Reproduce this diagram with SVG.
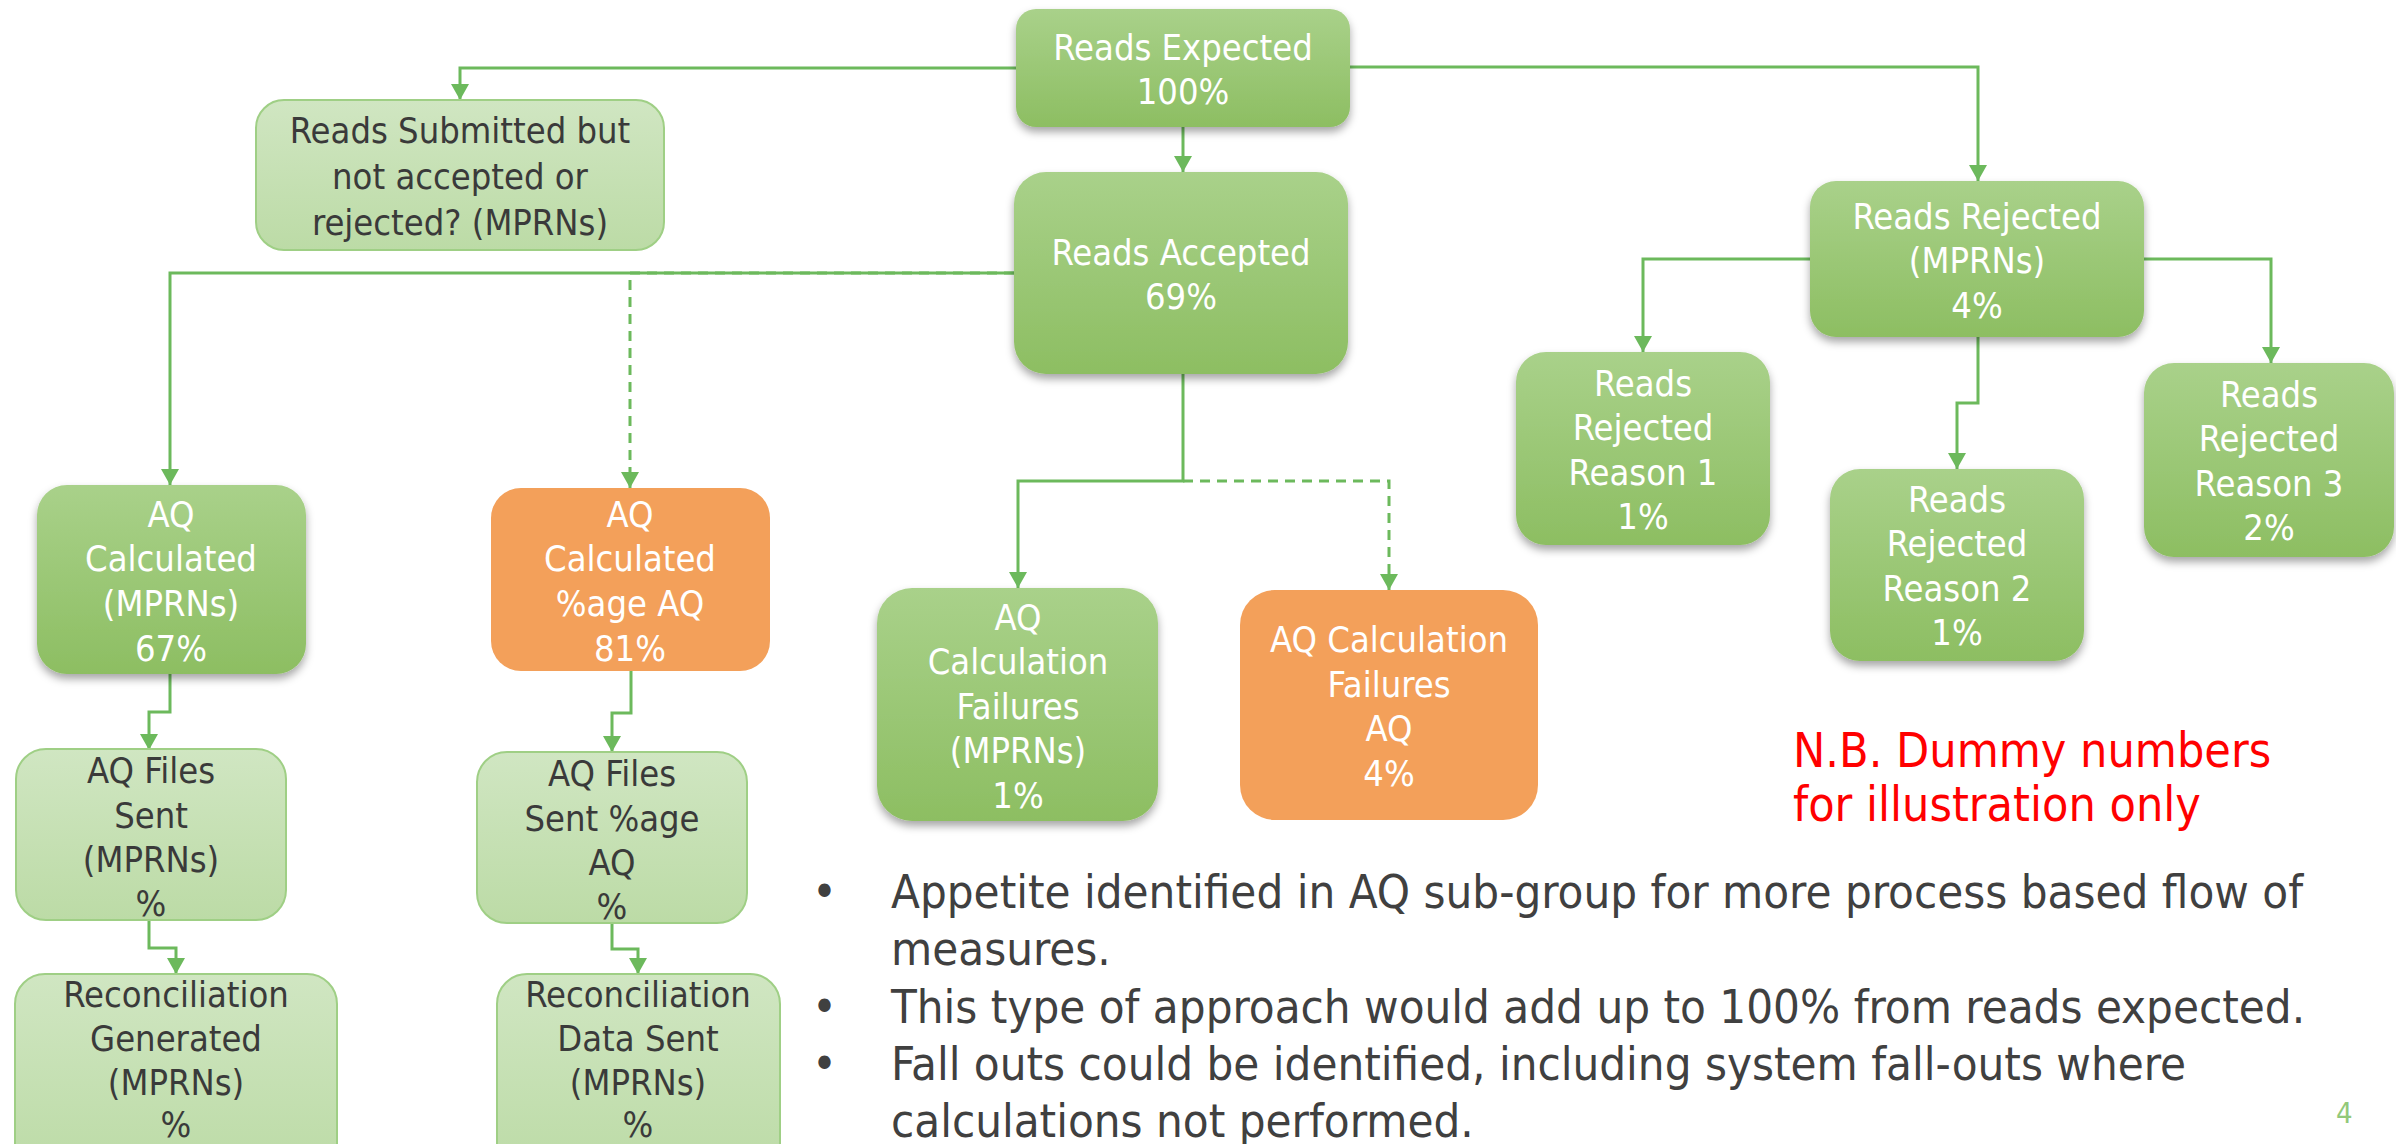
<svg xmlns="http://www.w3.org/2000/svg" width="2396" height="1144" viewBox="0 0 2396 1144">
<style>
.t{font-family:"DejaVu Sans Condensed","Liberation Sans",sans-serif;font-size:36px;text-anchor:middle}
.w{fill:#ffffff}
.k{fill:#3a3a3a}
.dg{fill:url(#gDark);filter:url(#sh)}
.lg{fill:url(#gLight);stroke:#9fcf85;stroke-width:2}
.or{fill:#f3a05a}
.c{fill:none;stroke:#6cb95c;stroke-width:3;marker-end:url(#ah)}
.d{stroke-dasharray:10 7}
.b{font-family:"DejaVu Sans Condensed","Liberation Sans",sans-serif;font-size:47px;fill:#404040}
.nb{font-family:"DejaVu Sans Condensed","Liberation Sans",sans-serif;font-size:48px;fill:#ff0000}
</style>
<defs>
<linearGradient id="gDark" x1="0" y1="0" x2="0" y2="1">
<stop offset="0" stop-color="#a9d18a"/>
<stop offset="1" stop-color="#8dbe62"/>
</linearGradient>
<linearGradient id="gLight" x1="0" y1="0" x2="0" y2="1">
<stop offset="0" stop-color="#d0e6c2"/>
<stop offset="1" stop-color="#bcdba6"/>
</linearGradient>
<filter id="sh" x="-10%" y="-10%" width="120%" height="130%">
<feDropShadow dx="0" dy="5" stdDeviation="4" flood-color="#000" flood-opacity="0.35"/>
</filter>
<marker id="ah" viewBox="0 0 16 18" refX="16" refY="9" markerWidth="16" markerHeight="18" markerUnits="userSpaceOnUse" orient="auto">
<path d="M0,0 L16,9 L0,18 Z" fill="#6cb95c"/>
</marker>
</defs>

<g id="connectors">
<path class="c" d="M1016,68 H460 V100"/>
<path class="c" d="M1183,127 V172"/>
<path class="c" d="M1350,67 H1978 V181"/>
<path class="c" d="M1014,273 H170 V485"/>
<path class="c d" d="M1014,273 H630 V488"/>
<path class="c" d="M1183,374 V481 H1018 V588"/>
<path class="c d" d="M1183,481 H1389 V590"/>
<path class="c" d="M1810,259 H1643 V352"/>
<path class="c" d="M2144,259 H2271 V363"/>
<path class="c" d="M1978,337 V403 H1957 V469"/>
<path class="c" d="M170,674 V712 H149 V750"/>
<path class="c" d="M631,671 V713 H612 V752"/>
<path class="c" d="M149,920 V948 H176 V974"/>
<path class="c" d="M612,923 V949 H638 V974"/>
</g>

<g id="reads-expected">
<rect class="dg" x="1016" y="9" width="334" height="118" rx="20"/>
<text class="t w" x="1183" y="60">Reads Expected</text>
<text class="t w" x="1183" y="104">100%</text>
</g>

<g id="reads-submitted">
<rect class="lg" x="256" y="100" width="408" height="150" rx="28"/>
<text class="t k" x="460" y="143">Reads Submitted but</text>
<text class="t k" x="460" y="189">not accepted or</text>
<text class="t k" x="460" y="235">rejected? (MPRNs)</text>
</g>

<g id="reads-accepted">
<rect class="dg" x="1014" y="172" width="334" height="202" rx="32"/>
<text class="t w" x="1181" y="265">Reads Accepted</text>
<text class="t w" x="1181" y="309">69%</text>
</g>

<g id="reads-rejected">
<rect class="dg" x="1810" y="181" width="334" height="156" rx="26"/>
<text class="t w" x="1977" y="229">Reads Rejected</text>
<text class="t w" x="1977" y="273">(MPRNs)</text>
<text class="t w" x="1977" y="318">4%</text>
</g>

<g id="reason-1">
<rect class="dg" x="1516" y="352" width="254" height="193" rx="30"/>
<text class="t w" x="1643" y="396">Reads</text>
<text class="t w" x="1643" y="440">Rejected</text>
<text class="t w" x="1643" y="485">Reason 1</text>
<text class="t w" x="1643" y="529">1%</text>
</g>

<g id="reason-2">
<rect class="dg" x="1830" y="469" width="254" height="192" rx="30"/>
<text class="t w" x="1957" y="512">Reads</text>
<text class="t w" x="1957" y="556">Rejected</text>
<text class="t w" x="1957" y="601">Reason 2</text>
<text class="t w" x="1957" y="645">1%</text>
</g>

<g id="reason-3">
<rect class="dg" x="2144" y="363" width="250" height="194" rx="30"/>
<text class="t w" x="2269" y="407">Reads</text>
<text class="t w" x="2269" y="451">Rejected</text>
<text class="t w" x="2269" y="496">Reason 3</text>
<text class="t w" x="2269" y="540">2%</text>
</g>

<g id="aq-calculated-mprns">
<rect class="dg" x="37" y="485" width="269" height="189" rx="30"/>
<text class="t w" x="171" y="527">AQ</text>
<text class="t w" x="171" y="571">Calculated</text>
<text class="t w" x="171" y="616">(MPRNs)</text>
<text class="t w" x="171" y="661">67%</text>
</g>

<g id="aq-calculated-age">
<rect class="or" x="491" y="488" width="279" height="183" rx="30"/>
<text class="t w" x="630" y="527">AQ</text>
<text class="t w" x="630" y="571">Calculated</text>
<text class="t w" x="630" y="616">%age AQ</text>
<text class="t w" x="630" y="661">81%</text>
</g>

<g id="aq-failures-mprns">
<rect class="dg" x="877" y="588" width="281" height="233" rx="35"/>
<text class="t w" x="1018" y="630">AQ</text>
<text class="t w" x="1018" y="674">Calculation</text>
<text class="t w" x="1018" y="719">Failures</text>
<text class="t w" x="1018" y="763">(MPRNs)</text>
<text class="t w" x="1018" y="808">1%</text>
</g>

<g id="aq-failures-aq">
<rect class="or" x="1240" y="590" width="298" height="230" rx="35"/>
<text class="t w" x="1389" y="652">AQ Calculation</text>
<text class="t w" x="1389" y="697">Failures</text>
<text class="t w" x="1389" y="741">AQ</text>
<text class="t w" x="1389" y="786">4%</text>
</g>

<g id="aq-files-sent-mprns">
<rect class="lg" x="16" y="749" width="270" height="171" rx="30"/>
<text class="t k" x="151" y="783">AQ Files</text>
<text class="t k" x="151" y="828">Sent</text>
<text class="t k" x="151" y="872">(MPRNs)</text>
<text class="t k" x="151" y="916">%</text>
</g>

<g id="aq-files-sent-age">
<rect class="lg" x="477" y="752" width="270" height="171" rx="30"/>
<text class="t k" x="612" y="786">AQ Files</text>
<text class="t k" x="612" y="831">Sent %age</text>
<text class="t k" x="612" y="875">AQ</text>
<text class="t k" x="612" y="919">%</text>
</g>

<g id="reconciliation-generated">
<rect class="lg" x="15" y="974" width="322" height="200" rx="30"/>
<text class="t k" x="176" y="1007">Reconciliation</text>
<text class="t k" x="176" y="1051">Generated</text>
<text class="t k" x="176" y="1095">(MPRNs)</text>
<text class="t k" x="176" y="1137">%</text>
</g>

<g id="reconciliation-data-sent">
<rect class="lg" x="497" y="974" width="283" height="200" rx="30"/>
<text class="t k" x="638" y="1007">Reconciliation</text>
<text class="t k" x="638" y="1051">Data Sent</text>
<text class="t k" x="638" y="1095">(MPRNs)</text>
<text class="t k" x="638" y="1137">%</text>
</g>

<g id="note">
<text class="nb" x="1793" y="767">N.B. Dummy numbers</text>
<text class="nb" x="1793" y="821">for illustration only</text>
</g>

<g id="bullets">
<text class="b" x="812" y="908">•</text>
<text class="b" x="891" y="908">Appetite identified in AQ sub-group for more process based flow of</text>
<text class="b" x="891" y="965">measures.</text>
<text class="b" x="812" y="1023">•</text>
<text class="b" x="891" y="1023">This type of approach would add up to 100% from reads expected.</text>
<text class="b" x="812" y="1080">•</text>
<text class="b" x="891" y="1080">Fall outs could be identified, including system fall-outs where</text>
<text class="b" x="891" y="1137">calculations not performed.</text>
</g>

<text x="2336" y="1123" font-family="DejaVu Sans Condensed, Liberation Sans, sans-serif" font-size="29" fill="#92c97a">4</text>
</svg>
